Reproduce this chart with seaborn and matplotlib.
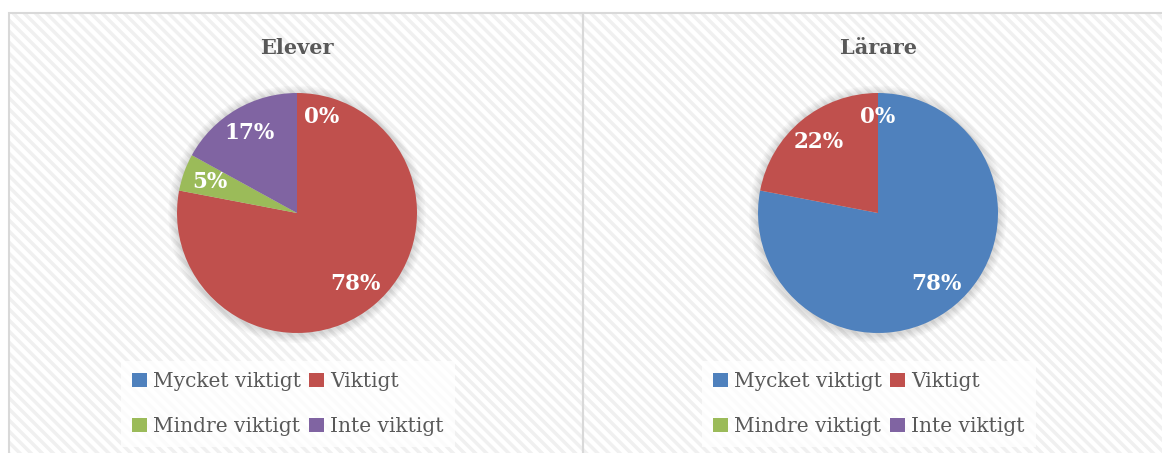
import matplotlib
matplotlib.use("Agg")
import numpy as np
import matplotlib.pyplot as plt
from matplotlib.patches import Rectangle, Patch
import seaborn as sns

# data
categories = ["Mycket viktigt", "Viktigt", "Mindre viktigt", "Inte viktigt"]
elever = [0, 78, 5, 17]
larare = [78, 22, 0, 0]
titles = ["Elever", "Lärare"]

sns.set_theme(style="white")
plt.rcParams["font.family"] = ["DejaVu Serif"]
plt.rcParams["hatch.linewidth"] = 2.5

colors = sns.color_palette(["#4F81BD", "#C0504D", "#9BBB59", "#8064A2"])
W, H = 1162, 453
fig = plt.figure(figsize=(W / 100, H / 100), dpi=100)
fig.patch.set_facecolor("white")

# panel backgrounds (hatched) + borders
for x0, x1 in [(9, 583), (583, 1200)]:
    fig.patches.append(Rectangle((x0 / W, -0.1), (x1 - x0) / W, 1.1 - 13 / H,
                                 transform=fig.transFigure, facecolor="white",
                                 edgecolor="#f0f0f0", linewidth=0,
                                 hatch="\\\\\\", zorder=0))
    fig.patches.append(Rectangle((x0 / W, -0.1), (x1 - x0) / W, 1.1 - 13 / H,
                                 transform=fig.transFigure, fill=False,
                                 edgecolor="#d9d9d9", linewidth=1.5, zorder=0.5))

centers = [297, 878]
R = 119
half = 150
order = [0, 2, 1, 3]
for cx, title, vals in zip(centers, titles, [elever, larare]):
    ax = fig.add_axes([(cx - half) / W, (H - 213 - half) / H, 2 * half / W, 2 * half / H])
    ax.set_zorder(2)
    ax.set_xlim(-half / R, half / R)
    ax.set_ylim(-half / R, half / R)
    ax.axis("off")
    ax.patch.set_alpha(0)
    # soft shadow
    for k in range(6):
        ax.add_patch(plt.Circle((0, -0.01), 1 + 0.012 * (k + 1), color="#000000",
                                alpha=0.025, linewidth=0))
    wedges, texts = ax.pie(vals, colors=colors, startangle=90, counterclock=False,
                           radius=1, wedgeprops=dict(linewidth=0))
    for i, (w, v) in enumerate(zip(wedges, vals)):
        mid = np.deg2rad((w.theta1 + w.theta2) / 2)
        d = 0.8 if v == 0 else 0.77
        x, y = d * np.cos(mid), d * np.sin(mid)
        ha = "center"
        if v == 0 and title == "Elever":
            ha = "left"
            x += 0.06
        if v == 0 and title == "Lärare" and i != len(vals) - 1:
            continue
        ax.text(x, y, f"{v}%", ha=ha, va="center", color="white",
                fontsize=15.5, fontweight="bold")
    fig.text(cx / W, 1 - 48 / H, title, ha="center", va="center",
             fontsize=15, fontweight="bold", color="#595959")
    handles = [Patch(facecolor=colors[i], edgecolor="none") for i in order]
    labels = [categories[i] for i in order]
    leg = fig.legend(handles, labels, ncol=2, loc="center",
                     bbox_to_anchor=((cx - 9) / W, 1 - 404 / H),
                     frameon=True, fontsize=14.5, handlelength=0.75, handleheight=0.75,
                     handletextpad=0.3, columnspacing=0.4, labelspacing=1.3,
                     borderpad=0.55, fancybox=False)
    leg.set_zorder(3)
    leg.get_frame().set_facecolor("white")
    leg.get_frame().set_edgecolor("none")
    for t in leg.get_texts():
        t.set_color("#595959")

fig.savefig("out.png", dpi=100)
